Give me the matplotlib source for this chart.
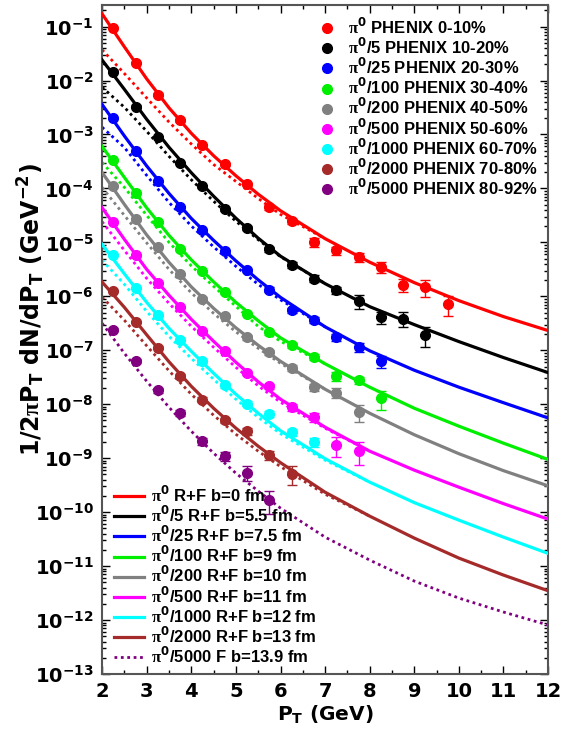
import matplotlib
matplotlib.use("Agg")
import numpy as np
import matplotlib.pyplot as plt
from matplotlib.lines import Line2D
from matplotlib.ticker import MultipleLocator, LogLocator

plt.rcParams["font.family"] = ["DejaVu Sans"]
plt.rcParams["font.weight"] = "bold"
plt.rcParams["axes.unicode_minus"] = False
plt.rcParams["mathtext.fontset"] = "custom"
plt.rcParams["mathtext.rm"] = "DejaVu Sans:bold"
plt.rcParams["mathtext.bf"] = "DejaVu Sans:bold"
plt.rcParams["mathtext.it"] = "Liberation Serif"
plt.rcParams["mathtext.default"] = "rm"

# PHENIX pi0 data, pT bins
pt_data = [2.25, 2.75, 3.25, 3.75, 4.25, 4.75, 5.25, 5.75, 6.25, 6.75,
           7.25, 7.75, 8.25, 8.75, 9.25, 9.75]

red_pts = [9.46e-2, 2.09e-2, 5.5e-3, 1.82e-3, 6.25e-4, 2.78e-4, 1.19e-4, 4.5e-5,
           2.45e-5, 1.01e-5, 7.1e-6, 5.35e-6, 3.5e-6, 1.62e-6, 1.49e-6, 7.1e-7]
black_pts = [1.47e-2, 3.3e-3, 8.9e-4, 2.94e-4, 1.09e-4, 4.08e-5, 1.86e-5, 7.4e-6,
             3.86e-6, 2.13e-6, 1.29e-6, 8.2e-7, 4.14e-7, 3.87e-7, 1.95e-7]
blue_pts = [2.04e-3, 4.84e-4, 1.36e-4, 4.5e-5, 1.67e-5, 6.9e-6, 3.03e-6, 1.33e-6,
            5.5e-7, 3.7e-7, 1.76e-7, 1.15e-7, 6.3e-8]
green_pts = [3.4e-4, 8.3e-5, 2.38e-5, 7.6e-6, 2.94e-6, 1.2e-6, 4.8e-7, 2.16e-7,
             1.24e-7, 7.5e-8, 3.34e-8, 2.78e-8, 1.28e-8]
gray_pts = [1.1e-4, 2.67e-5, 8.2e-6, 2.63e-6, 9.06e-7, 4.26e-7, 1.76e-7, 9.2e-8,
            4.74e-8, 2.09e-8, 1.65e-8, 7.2e-9]
magenta_pts = [2.38e-5, 5.74e-6, 1.79e-6, 6.34e-7, 2.28e-7, 9.6e-8, 3.8e-8, 2.15e-8,
               8.7e-9, 5.8e-9, 1.74e-9, 1.35e-9]
cyan_pts = [5.9e-6, 1.43e-6, 4.45e-7, 1.58e-7, 6.3e-8, 2.25e-8, 1.03e-8, 6.7e-9,
            3.03e-9, 1.98e-9]
brown_pts = [1.25e-6, 3.34e-7, 1.12e-7, 3.34e-8, 1.22e-8, 5.06e-9, 3.16e-9, 1.14e-9,
             5.2e-10]
purple_pts = [2.42e-7, 6.25e-8, 1.82e-8, 6.9e-9, 2.09e-9, 1.09e-9, 5.4e-10, 1.67e-10]

# relative errors
red_err = [0.05, 0.05, 0.05, 0.05, 0.05, 0.06, 0.08, 0.1, 0.12, 0.2, 0.18, 0.18,
           0.22, 0.27, 0.35, 0.4]
black_err = [0.05, 0.05, 0.05, 0.05, 0.05, 0.06, 0.08, 0.1, 0.12, 0.15, 0.15, 0.3,
             0.25, 0.3, 0.4]
blue_err = [0.05, 0.05, 0.05, 0.05, 0.05, 0.06, 0.08, 0.1, 0.1, 0.12, 0.15, 0.2, 0.25]
green_err = [0.05, 0.05, 0.05, 0.05, 0.05, 0.06, 0.08, 0.1, 0.1, 0.12, 0.2, 0.15, 0.4]
gray_err = [0.05, 0.05, 0.05, 0.05, 0.06, 0.08, 0.1, 0.1, 0.12, 0.15, 0.2, 0.35]
magenta_err = [0.05, 0.05, 0.05, 0.05, 0.06, 0.08, 0.1, 0.1, 0.15, 0.2, 0.4, 0.45]
cyan_err = [0.05, 0.05, 0.05, 0.06, 0.08, 0.1, 0.1, 0.12, 0.15, 0.2]
brown_err = [0.05, 0.05, 0.06, 0.08, 0.1, 0.12, 0.15, 0.2, 0.4]
purple_err = [0.06, 0.08, 0.1, 0.12, 0.15, 0.2, 0.3, 0.45]

# R+F model curves
pt_fit = [2, 2.5, 3, 3.5, 4, 4.5, 5, 5.5, 6, 7, 8, 9, 10, 11, 12]
red_fit = [1.72e-1, 4.21e-2, 1.074e-2, 3.12e-3, 1.052e-3, 4.04e-4, 1.718e-4, 7.82e-5,
           3.86e-5, 1.172e-5, 4.30e-6, 1.795e-6, 8.32e-7, 4.21e-7, 2.32e-7]
black_fit = [2.40e-2, 6.87e-3, 1.910e-3, 5.79e-4, 1.954e-4, 7.18e-5, 2.81e-5, 1.197e-5,
             5.55e-6, 1.718e-6, 6.44e-7, 2.99e-7, 1.449e-7, 7.33e-8, 3.86e-8]
blue_fit = [3.60e-3, 9.38e-4, 2.61e-4, 8.07e-5, 2.78e-5, 1.089e-5, 4.54e-6, 2.02e-6,
            9.57e-7, 2.72e-7, 9.79e-8, 4.27e-8, 2.07e-8, 1.067e-8, 5.57e-9]
green_fit = [6.0e-4, 1.60e-4, 4.36e-5, 1.349e-5, 4.74e-6, 1.858e-6, 7.74e-7, 3.52e-7,
             1.702e-7, 5.62e-8, 2.07e-8, 8.43e-9, 3.92e-9, 1.897e-9, 9.46e-10]
gray_fit = [1.977e-4, 5.06e-5, 1.377e-5, 4.27e-6, 1.50e-6, 6.0e-7, 2.61e-7, 1.239e-7,
            6.25e-8, 1.897e-8, 6.81e-9, 2.72e-9, 1.211e-9, 5.87e-10, 3.07e-10]
magenta_fit = [4.40e-5, 1.138e-5, 3.16e-6, 1.045e-6, 3.75e-7, 1.468e-7, 6.0e-8, 2.61e-8,
               1.239e-8, 3.75e-9, 1.349e-9, 6.0e-10, 2.90e-10, 1.436e-10, 7.41e-11]
cyan_fit = [9.18e-6, 2.61e-6, 7.74e-7, 2.55e-7, 9.57e-8, 3.75e-8, 1.531e-8, 6.81e-9,
            3.23e-9, 9.79e-10, 3.60e-10, 1.50e-10, 7.1e-11, 3.44e-11, 1.718e-11]
brown_fit = [1.841e-6, 6.25e-7, 1.936e-7, 6.12e-8, 2.15e-8, 8.43e-9, 3.60e-9, 1.667e-9,
             8.26e-10, 2.34e-10, 8.43e-11, 3.30e-11, 1.406e-11, 6.81e-12, 3.49e-12]
purple_frag = [3.16e-7, 8.79e-8, 2.67e-8, 8.79e-9, 3.16e-9, 1.239e-9, 5.27e-10, 2.45e-10,
               1.186e-10, 3.44e-11, 1.291e-11, 5.27e-12, 2.55e-12, 1.406e-12, 8.07e-13]

# fragmentation-only curves (dotted), they join the R+F curves at higher pT
pt_frag = [2, 2.5, 3, 3.5, 4, 4.5, 5, 5.5, 6, 7, 8]
red_frag = [3.71e-2, 1.349e-2, 4.74e-3, 1.702e-3, 6.67e-4, 2.78e-4, 1.349e-4, 6.53e-5,
            3.30e-5, 1.172e-5]
black_frag = [7.52e-3, 3.19e-3, 1.146e-3, 3.94e-4, 1.449e-4, 5.79e-5, 2.47e-5, 1.122e-5,
              5.43e-6, 1.718e-6]
blue_frag = [1.365e-3, 5.74e-4, 1.742e-4, 5.51e-5, 2.02e-5, 8.26e-6, 3.60e-6, 1.667e-6,
             8.61e-7, 2.72e-7]
green_frag = [3.03e-4, 1.045e-4, 3.16e-5, 1.0e-5, 3.67e-6, 1.531e-6, 6.53e-7, 2.78e-7,
              1.468e-7, 5.62e-8]
gray_frag = [1.045e-4, 3.16e-5, 9.79e-6, 3.16e-6, 1.161e-6, 4.84e-7, 2.20e-7, 1.089e-7,
             5.74e-8, 1.897e-8]
magenta_frag = [2.42e-5, 7.1e-6, 2.15e-6, 7.41e-7, 2.78e-7, 1.138e-7, 4.84e-8, 2.20e-8,
                1.089e-8, 3.60e-9, 1.349e-9]
cyan_frag = [4.70e-6, 1.667e-6, 5.27e-7, 1.815e-7, 7.1e-8, 2.90e-8, 1.239e-8, 5.74e-9,
             2.84e-9, 9.18e-10, 3.60e-10]
brown_frag = [9.70e-7, 3.60e-7, 1.211e-7, 4.17e-8, 1.531e-8, 6.25e-9, 2.78e-9, 1.349e-9,
              6.97e-10, 2.15e-10, 8.43e-11]

colors = ["#ff0000", "#000000", "#0000ff", "#00ee00", "#808080", "#ff00ff",
          "#00ffff", "#a52a2a", "#800080"]
data_labels = ["PHENIX 0-10%", "/5 PHENIX 10-20%", "/25 PHENIX 20-30%",
               "/100 PHENIX 30-40%", "/200 PHENIX 40-50%", "/500 PHENIX 50-60%",
               "/1000 PHENIX 60-70%", "/2000 PHENIX 70-80%", "/5000 PHENIX 80-92%"]
fit_labels = ["R+F b=0 fm", "/5 R+F b=5.5 fm", "/25 R+F b=7.5 fm", "/100 R+F b=9 fm",
              "/200 R+F b=10 fm", "/500 R+F b=11 fm", "/1000 R+F b=12 fm",
              "/2000 R+F b=13 fm", "/5000 F b=13.9 fm"]

points = [red_pts, black_pts, blue_pts, green_pts, gray_pts, magenta_pts, cyan_pts,
          brown_pts, purple_pts]
errs = [red_err, black_err, blue_err, green_err, gray_err, magenta_err, cyan_err,
        brown_err, purple_err]
fits = [red_fit, black_fit, blue_fit, green_fit, gray_fit, magenta_fit, cyan_fit,
        brown_fit]
frags = [red_frag, black_frag, blue_frag, green_frag, gray_frag, magenta_frag, cyan_frag,
         brown_frag]

fig = plt.figure(figsize=(5.61, 7.31), dpi=100)
ax = fig.add_axes([0.182, 0.078, 0.795, 0.915])

dot_style = (0, (1.0, 1.3))
for c, fr in zip(colors, frags):
    ax.plot(pt_frag[:len(fr)], fr, color=c, lw=2.0, ls=dot_style, zorder=2)
ax.plot(pt_fit, purple_frag, color=colors[8], lw=2.0, ls=dot_style, zorder=2)

for c, ft in zip(colors, fits):
    ax.plot(pt_fit, ft, color=c, lw=2.3, zorder=3)

for c, p, e in zip(colors, points, errs):
    p = np.array(p)
    ax.errorbar(pt_data[:len(p)], p, yerr=p * np.array(e), fmt="o", color=c,
                ms=7, elinewidth=1, capsize=3.5, capthick=1, zorder=4)

ax.set_yscale("log")
ax.set_xlim(2, 12)
ax.set_ylim(1e-13, 0.25)
ax.xaxis.set_major_locator(MultipleLocator(1))
ax.xaxis.set_minor_locator(MultipleLocator(0.5))
ax.yaxis.set_major_locator(LogLocator(base=10, numticks=30))
ax.yaxis.set_minor_locator(LogLocator(base=10, subs=np.arange(2, 10), numticks=30))
ax.tick_params(which="both", direction="in", top=True, right=True, width=1)
ax.tick_params(which="major", length=6, pad=6, labelsize=14)
ax.tick_params(which="minor", length=3)
for s in ax.spines.values():
    s.set_color("#555555")
    s.set_linewidth(1.5)

ax.set_xlabel(r"P$_{T}$ (GeV)", fontsize=14.5, fontweight="bold", labelpad=2)
ax.set_ylabel(r"1/2$\mathit{\pi}$P$_{T}$ dN/dP$_{T}$ (GeV$^{-2}$)", fontsize=17,
              fontweight="bold")
ax.yaxis.set_label_coords(-0.123, 0.545)

leg_font = {"family": "Liberation Sans", "weight": "bold", "size": 12}
pi0 = r"$\mathit{\pi}^{0}$"
h1 = [Line2D([], [], marker="o", ls="none", color=c, ms=7) for c in colors]
leg1 = ax.legend(h1, [pi0 + (" " if i == 0 else "") + t for i, t in enumerate(data_labels)],
                 loc="upper left", bbox_to_anchor=(319 / 561, 1 - 17 / 731),
                 bbox_transform=fig.transFigure, frameon=False, prop=leg_font,
                 borderpad=0, borderaxespad=0, handlelength=0.9, handletextpad=0.85,
                 labelspacing=0.0)
ax.add_artist(leg1)

h2 = [Line2D([], [], color=c, lw=2.3) for c in colors[:8]]
h2.append(Line2D([], [], color=colors[8], lw=2.0, ls=dot_style))
ax.legend(h2, [pi0 + (" " if i == 0 else "") + t for i, t in enumerate(fit_labels)],
          loc="upper left", bbox_to_anchor=(114 / 561, 1 - 485 / 731),
          bbox_transform=fig.transFigure, frameon=False, prop=leg_font,
          borderpad=0, borderaxespad=0, handlelength=1.8, handletextpad=0.4,
          labelspacing=0.0)

fig.savefig("out.png", dpi=100)
